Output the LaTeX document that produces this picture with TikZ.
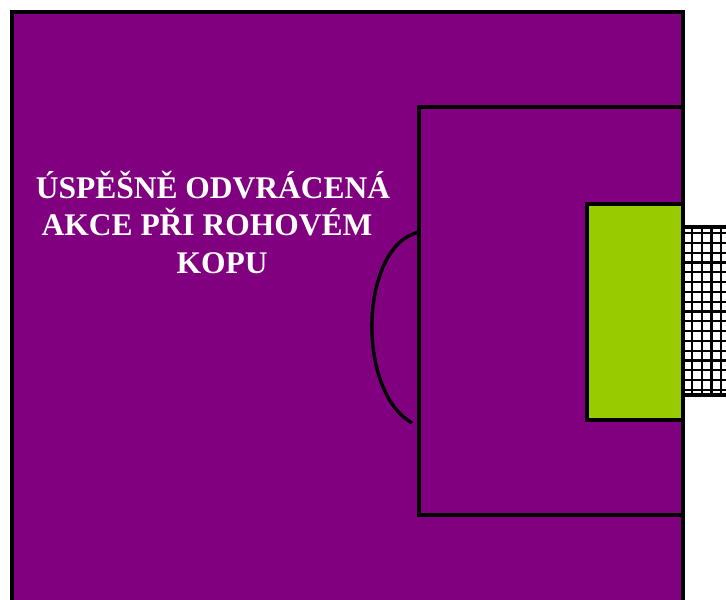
\documentclass[tikz,border=0pt]{standalone}
\usepackage{fontspec}
\setmainfont{Liberation Serif}
\definecolor{fieldpurple}{HTML}{800080}
\definecolor{goalgreen}{HTML}{99CC00}
\begin{document}
\begin{tikzpicture}[x=1pt,y=-1pt,
  edge/.style={draw=black,line width=3.4pt},
  netline/.style={draw=black,line width=2.2pt},
  caption/.style={text=white,font=\bfseries\fontsize{31.5}{37}\selectfont,align=center,inner sep=0pt}]
\useasboundingbox (0,0) rectangle (726,600);
\clip (0,0) rectangle (726,600);
\fill[white] (0,0) rectangle (726,600);
% field
\path[fill=fieldpurple,edge] (12,12) rectangle (683,620);
% net
\begin{scope}
  \clip (683,227) rectangle (730,395);
  \fill[white] (683,227) rectangle (730,395);
  \foreach \x in {0,...,5} \draw[netline] (692+\x*9.7,227) -- (692+\x*9.7,395);
  \foreach \y in {0,...,16} \draw[netline] (683,233+\y*9.8) -- (730,233+\y*9.8);
\end{scope}
\draw[edge] (683,227) -- (730,227);
\draw[edge] (683,395) -- (730,395);
% penalty area
\draw[edge] (419,107) rectangle (683,515);
% goal area
\path[fill=goalgreen,edge] (587,204) rectangle (683,420);
% arc
\coordinate (arcA) at (419,232);
\coordinate (arcB) at (412,423);
\draw[black,line width=3.4pt] (arcA) .. controls (360,245) and (355,390) .. (arcB);
% text
\node[caption,anchor=base] (t1) at (213,198) {ÚSPĚŠNĚ ODVRÁCENÁ};
\node[caption,anchor=base] (t2) at (207,235) {AKCE PŘI ROHOVÉM};
\node[caption,anchor=base] (t3) at (222,273) {KOPU};
\end{tikzpicture}
\end{document}
